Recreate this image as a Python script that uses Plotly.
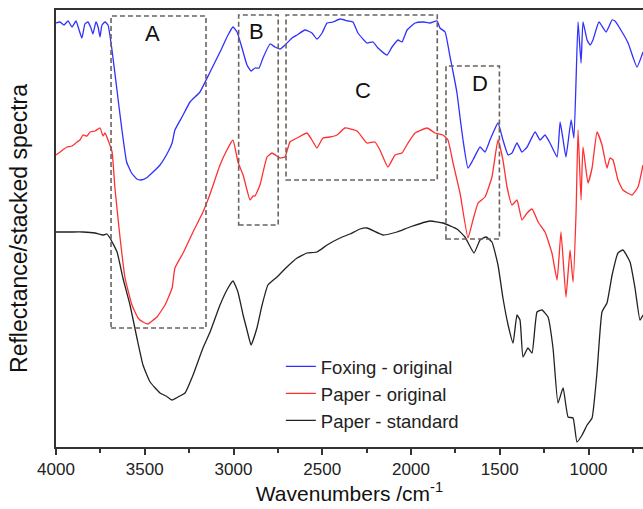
import plotly.graph_objects as go

# ---- data (wavenumber cm^-1, stacked reflectance in a.u.) ----
wn_foxing = [4000, 3977, 3955, 3932, 3910, 3887, 3870, 3854, 3837, 3820, 3803, 3792, 3775, 3763, 3752,
             3741, 3724, 3707, 3686, 3658, 3630, 3602, 3574, 3545, 3521, 3489, 3453, 3414, 3369, 3346,
             3330, 3284, 3245, 3189, 3132, 3076, 3031, 3003, 2980, 2952, 2924, 2901, 2879, 2856, 2834,
             2794, 2766, 2738, 2710, 2670, 2642, 2597, 2558, 2530, 2501, 2473, 2439, 2400, 2355, 2327,
             2299, 2248, 2214, 2186, 2135, 2107, 2073, 2051, 2022, 1977, 1932, 1893, 1853, 1837, 1808,
             1780, 1763, 1741, 1724, 1707, 1679, 1651, 1611, 1583, 1555, 1538, 1510, 1482, 1453, 1431,
             1403, 1375, 1346, 1301, 1273, 1245, 1217, 1177, 1160, 1143, 1127, 1098, 1082, 1059, 1042,
             1031, 1008, 991, 975, 941, 901, 867, 851, 811, 777, 727, 693]
val_foxing = [106, 106.25, 105.5, 106.5, 105, 106.5, 104.25, 102.25, 105.75, 106.25, 104.75, 103.25, 106.25, 105, 102.5,
              105.5, 106.25, 105.5, 99.75, 89.75, 79.75, 71.25, 68.5, 67, 66.75, 67.3, 68.75, 70.5, 73.75, 76,
              79.25, 83, 86.25, 88.75, 93.75, 98.75, 103, 105, 103.75, 99.75, 95.5, 94, 94.75, 94.75, 97.25,
              100.75, 100, 99.5, 100.5, 102.25, 103, 104.25, 103.5, 102, 103.5, 106, 106.25, 107, 106.5, 106.25,
              103.5, 101, 101.25, 99.75, 98, 100, 101.75, 101.25, 104.25, 106, 106.25, 106, 106.5, 104.75, 103.75,
              97.5, 93.75, 88.5, 82.5, 76.75, 69.75, 71.75, 75, 73.75, 76.75, 78.5, 81, 76.75, 73, 73.5,
              76, 73.75, 75, 78.75, 76.75, 78, 76, 72.5, 81.25, 76.75, 72.5, 81.75, 77.25, 106.25, 96,
              106.25, 101.75, 100.5, 101.75, 106.25, 103.75, 106.75, 106.5, 103.75, 101, 95, 98.75]

wn_paper = [4000, 3977, 3955, 3938, 3910, 3882, 3865, 3848, 3825, 3808, 3780, 3752, 3735, 3724, 3707,
            3684, 3668, 3639, 3611, 3572, 3538, 3510, 3482, 3459, 3431, 3386, 3346, 3330, 3284, 3228,
            3172, 3132, 3076, 3037, 3003, 2975, 2946, 2924, 2907, 2890, 2879, 2851, 2811, 2783, 2738,
            2710, 2682, 2642, 2586, 2558, 2530, 2496, 2456, 2417, 2372, 2304, 2248, 2203, 2175, 2130,
            2090, 2051, 2017, 1977, 1910, 1865, 1820, 1792, 1763, 1724, 1679, 1651, 1622, 1583, 1544,
            1510, 1482, 1459, 1431, 1403, 1375, 1346, 1318, 1284, 1245, 1206, 1177, 1155, 1127, 1104,
            1087, 1070, 1059, 1042, 1031, 1003, 980, 952, 924, 896, 879, 862, 834, 806, 755, 721, 693]
val_paper = [73, 73.75, 74.5, 75, 75.25, 76.25, 76.75, 78, 77.75, 78.75, 79, 79.75, 77.75, 78.5, 76.75,
             73.75, 64.75, 52.25, 42.25, 35.5, 32.25, 31.25, 30.75, 31.5, 32.5, 35.5, 39.75, 44.75, 48.5, 53.75,
             58.75, 63.25, 70.5, 74.25, 76.75, 71.25, 68, 64.25, 61.75, 62.75, 62.75, 65.5, 72.5, 73.5, 72.25,
             72.5, 76.25, 77.25, 78.5, 76.75, 74.75, 77.25, 77.5, 78, 79.75, 79, 76, 76.25, 74.25, 70,
             73, 73.5, 76, 78.5, 79.75, 78.5, 78, 76.75, 71, 63.5, 52.25, 56.75, 61, 62.5, 67.5,
             76.75, 71.75, 65, 60.5, 61.75, 56.75, 58.5, 59.5, 56.25, 53.75, 48.5, 41.75, 53.75, 37.5, 49.25,
             41.25, 58.75, 79.25, 61.75, 75, 66, 69.75, 78.75, 75.5, 69.75, 72.25, 71.75, 66.75, 64.25, 63, 65, 70.5]

wn_standard = [4000, 3921, 3848, 3780, 3735, 3713, 3696, 3656, 3623, 3583, 3544, 3510, 3470, 3414, 3380,
               3346, 3313, 3273, 3228, 3172, 3132, 3076, 3031, 3003, 2975, 2946, 2924, 2901, 2868, 2839,
               2806, 2755, 2699, 2642, 2586, 2530, 2473, 2400, 2344, 2287, 2248, 2158, 2079, 2006, 1893,
               1820, 1741, 1696, 1645, 1611, 1577, 1544, 1510, 1482, 1453, 1425, 1403, 1386, 1369, 1341,
               1318, 1290, 1262, 1228, 1200, 1172, 1143, 1115, 1087, 1065, 1036, 1008, 980, 952, 924,
               896, 867, 834, 806, 766, 738, 710, 693]
val_standard = [53.75, 53.75, 53.75, 53.5, 53, 53.25, 52.25, 48.75, 42.25, 35.5, 27.25, 20.5, 16.25, 13.5, 12.75,
                11.75, 12.5, 13.5, 18, 24.75, 28.75, 35.5, 39.75, 41.5, 38.75, 33, 29.25, 25.5, 29.75, 35.5,
                40.5, 42.5, 45, 47.25, 48.5, 48.75, 50.5, 52.25, 53.25, 54.5, 54.75, 53, 53.75, 55, 56.5,
                56, 54.5, 52.5, 48.5, 51.75, 52.5, 51.25, 45.5, 37.25, 30.5, 26, 33, 31.75, 22.5, 24.75,
                23.5, 33.75, 34.25, 32.5, 24.75, 11, 14.75, 7.5, 7.25, 1.25, 3, 5.5, 7.25, 18.75, 33.75,
                36, 43, 48.5, 49.25, 46.25, 39.75, 31.75, 33]

series_names = ["Foxing - original", "Paper - original", "Paper - standard"]
series_colors = ["#3030ff", "#ff3030", "#222222"]

# highlighted regions: label, wn_high, wn_low, val_low, val_high
region_labels = ["A", "B", "C", "D"]
region_wn_hi = [3690, 2971, 2704, 1803]
region_wn_lo = [3155, 2748, 1852, 1502]
region_val_lo = [29.75, 55.5, 66.75, 52]
region_val_hi = [107.75, 108, 108, 95.25]
label_wn = [3459, 2873, 2270, 1611]
label_val = [103.5, 104, 89.25, 91]

FONT = "Arial, Liberation Sans, sans-serif"

fig = go.Figure()
for wn, val, name, col in zip([wn_foxing, wn_paper, wn_standard],
                              [val_foxing, val_paper, val_standard],
                              series_names, series_colors):
    fig.add_trace(go.Scatter(x=wn, y=val, mode="lines", name=name,
                             line=dict(color=col, width=1.3, shape="spline", smoothing=0.4)))

for lab, x0, x1, y0, y1, lx, ly in zip(region_labels, region_wn_hi, region_wn_lo,
                                       region_val_lo, region_val_hi, label_wn, label_val):
    fig.add_shape(type="rect", xref="x", yref="y", x0=x0, x1=x1, y0=y0, y1=y1,
                  line=dict(color="#6b625c", width=1.6, dash="5px,3px"), layer="above")
    fig.add_annotation(x=lx, y=ly, xref="x", yref="y", text=lab, showarrow=False,
                       font=dict(family=FONT, size=22, color="#111111"))

fig.update_layout(
    width=643, height=509,
    margin=dict(l=56, r=0, t=10, b=62),
    paper_bgcolor="white", plot_bgcolor="white",
    font=dict(family=FONT, color="#222222"),
    showlegend=True,
    legend=dict(x=0.383, y=0.227, xanchor="left", yanchor="top",
                bgcolor="rgba(0,0,0,0)", font=dict(family=FONT, size=18.5, color="#222222"),
                tracegroupgap=0),
)
fig.update_xaxes(
    range=[4000, 693], autorange=False,
    tick0=4000, dtick=500, ticks="outside", ticklen=6, tickwidth=1.5, tickcolor="#333333",
    minor=dict(dtick=250, ticks="outside", ticklen=4, tickwidth=1.5, tickcolor="#333333"),
    showline=True, linecolor="#333333", linewidth=1.8, mirror=True,
    showgrid=False, zeroline=False,
    tickfont=dict(family=FONT, size=17, color="#222222"),
    title=dict(text="Wavenumbers /cm<sup>-1</sup>", font=dict(family=FONT, size=21, color="#111111"), standoff=6),
)
fig.update_yaxes(
    range=[0, 109.25], autorange=False,
    showticklabels=False, ticks="",
    showline=True, linecolor="#333333", linewidth=1.8, mirror=False,
    showgrid=False, zeroline=False,
    title=dict(text="Reflectance/stacked spectra", font=dict(family=FONT, size=23, color="#111111"), standoff=20),
)

fig.write_html("out.html")
